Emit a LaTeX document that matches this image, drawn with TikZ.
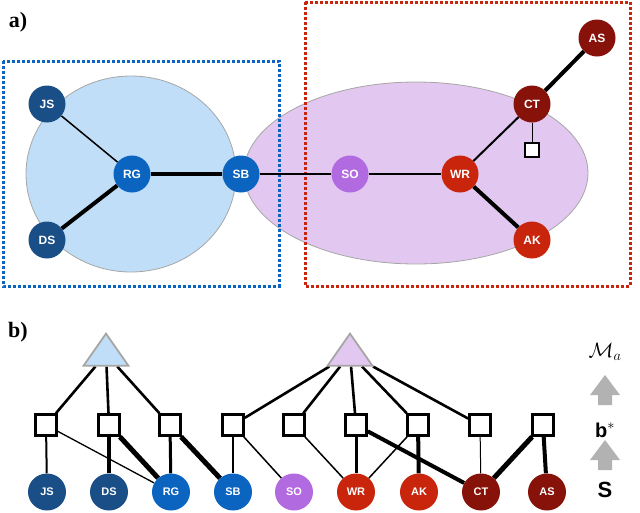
\documentclass[tikz,border=0pt]{standalone}
\usepackage{fontspec}
\setmainfont{Liberation Sans}
\newfontfamily\serifb{Liberation Serif}
\usetikzlibrary{shapes.geometric}
\pgfdeclarelayer{bg}
\pgfsetlayers{bg,main}
\definecolor{dblue}{RGB}{25,78,135}
\definecolor{bblue}{RGB}{10,100,192}
\definecolor{purp}{RGB}{178,106,224}
\definecolor{rred}{RGB}{200,37,12}
\definecolor{dred}{RGB}{135,18,10}
\definecolor{lblue}{RGB}{192,222,248}
\definecolor{lpurp}{RGB}{226,200,240}
\begin{document}
\begin{tikzpicture}[x=1pt,y=-1pt,
  pa/.style={circle,minimum size=37pt,inner sep=0pt,text=white,font=\bfseries\fontsize{12}{12}\selectfont},
  pb/.style={ellipse,minimum width=38pt,minimum height=37pt,inner sep=0pt,text=white,font=\bfseries\fontsize{11}{11}\selectfont},
  sq/.style={draw,line width=2.6pt,minimum size=21pt,inner sep=0pt,fill=white},
  tri/.style={isosceles triangle,shape border rotate=90,isosceles triangle apex angle=70,draw=gray!70,line width=1.8pt,minimum height=32pt,inner sep=0pt},
  lab/.style={font=\serifb\bfseries\fontsize{22}{22}\selectfont}]
\useasboundingbox (0,0) rectangle (640,512);
% part a
\node[lab] (la) at (18,22) {a)};
\fill[lblue,draw=gray!70,line width=0.8pt] (131,174) ellipse (105 and 98);
\fill[lpurp,draw=gray!70,line width=0.8pt] (416,173) ellipse (172 and 91);
\draw[bblue,dotted,line width=3pt] (3,61) rectangle (279,286);
\draw[rred,dotted,line width=3pt] (305,2) rectangle (630,286);
\node[pa,fill=dblue] (aJS) at (47,104) {JS};
\node[pa,fill=dblue] (aDS) at (47,240) {DS};
\node[pa,fill=bblue] (aRG) at (132,174) {RG};
\node[pa,fill=bblue] (aSB) at (241,174) {SB};
\node[pa,fill=purp] (aSO) at (350,174) {SO};
\node[pa,fill=rred] (aWR) at (460,174) {WR};
\node[pa,fill=dred] (aCT) at (532,104) {CT};
\node[pa,fill=rred] (aAK) at (532,240) {AK};
\node[pa,fill=dred] (aAS) at (597,38) {AS};
\node[sq,line width=2pt,minimum size=14pt] (asq) at (532,150) {};
\draw[line width=1.5pt] (aJS) -- (aRG);
\draw[line width=4pt] (aDS) -- (aRG);
\draw[line width=4pt] (aRG) -- (aSB);
\draw[line width=1.5pt] (aSB) -- (aSO);
\draw[line width=1.5pt] (aSO) -- (aWR);
\draw[line width=2pt] (aWR) -- (aCT);
\draw[line width=4pt] (aWR) -- (aAK);
\draw[line width=4pt] (aCT) -- (aAS);
\draw[line width=1pt] (aCT) -- (asq);
% part b
\node[lab] (lb) at (18,332) {b)};
\node[tri,fill=lblue] (t1) at (106,354) {};
\node[tri,fill=lpurp] (t2) at (350,354) {};
\foreach \i/\x in {1/46,2/109,3/170,4/233,5/294,6/356,7/418,8/480,9/543}
  \node[sq] (s\i) at (\x,425) {};
\node[pb,fill=dblue] (bJS) at (47,492) {JS};
\node[pb,fill=dblue] (bDS) at (109,492) {DS};
\node[pb,fill=bblue] (bRG) at (171,492) {RG};
\node[pb,fill=bblue] (bSB) at (233,492) {SB};
\node[pb,fill=purp] (bSO) at (294,492) {SO};
\node[pb,fill=rred] (bWR) at (356,492) {WR};
\node[pb,fill=rred] (bAK) at (419,492) {AK};
\node[pb,fill=dred] (bCT) at (481,492) {CT};
\node[pb,fill=dred] (bAS) at (547,492) {AS};
\begin{pgfonlayer}{bg}
\begin{scope}[line width=2.6pt]
\draw (t1) -- (s1); \draw (t1) -- (s2); \draw (t1) -- (s3);
\draw (t2) -- (s4); \draw (t2) -- (s5); \draw (t2) -- (s6); \draw (t2) -- (s7); \draw (t2) -- (s8);
\end{scope}
\draw[line width=2pt] (s1) -- (bJS);
\draw[line width=1.3pt] (s1) -- (bRG);
\draw[line width=4pt] (s2) -- (bDS);
\draw[line width=5pt] (s2) -- (bRG);
\draw[line width=3pt] (s3) -- (bRG);
\draw[line width=5pt] (s3) -- (bSB);
\draw[line width=1.3pt] (s4) -- (bSB);
\draw[line width=1.5pt] (s4) -- (bSO);
\draw[line width=1.5pt] (s5) -- (bWR);
\draw[line width=3pt] (s6) -- (bWR);
\draw[line width=4pt] (s6) -- (bCT);
\draw[line width=1.5pt] (s7) -- (bWR);
\draw[line width=4pt] (s7) -- (bAK);
\draw[line width=1pt] (s8) -- (bCT);
\draw[line width=5pt] (s9) -- (bCT);
\draw[line width=4pt] (s9) -- (bAS);
\end{pgfonlayer}
% right legend
\node (ma) at (605,352) {\fontsize{20}{20}\selectfont$\mathcal{M}_a$};
\node (bs) at (605,430) {\fontsize{20}{20}\selectfont$\mathbf{b}^*$};
\node (ss) at (605,490) {\fontsize{22}{22}\selectfont$\mathbf{S}$};
\fill[gray!60] (590,395) -- (605,375) -- (620,395) -- (612,395) -- (612,405) -- (598,405) -- (598,395) -- cycle;
\fill[gray!60] (590,460) -- (605,440) -- (620,460) -- (612,460) -- (612,470) -- (598,470) -- (598,460) -- cycle;
\end{tikzpicture}
\end{document}
